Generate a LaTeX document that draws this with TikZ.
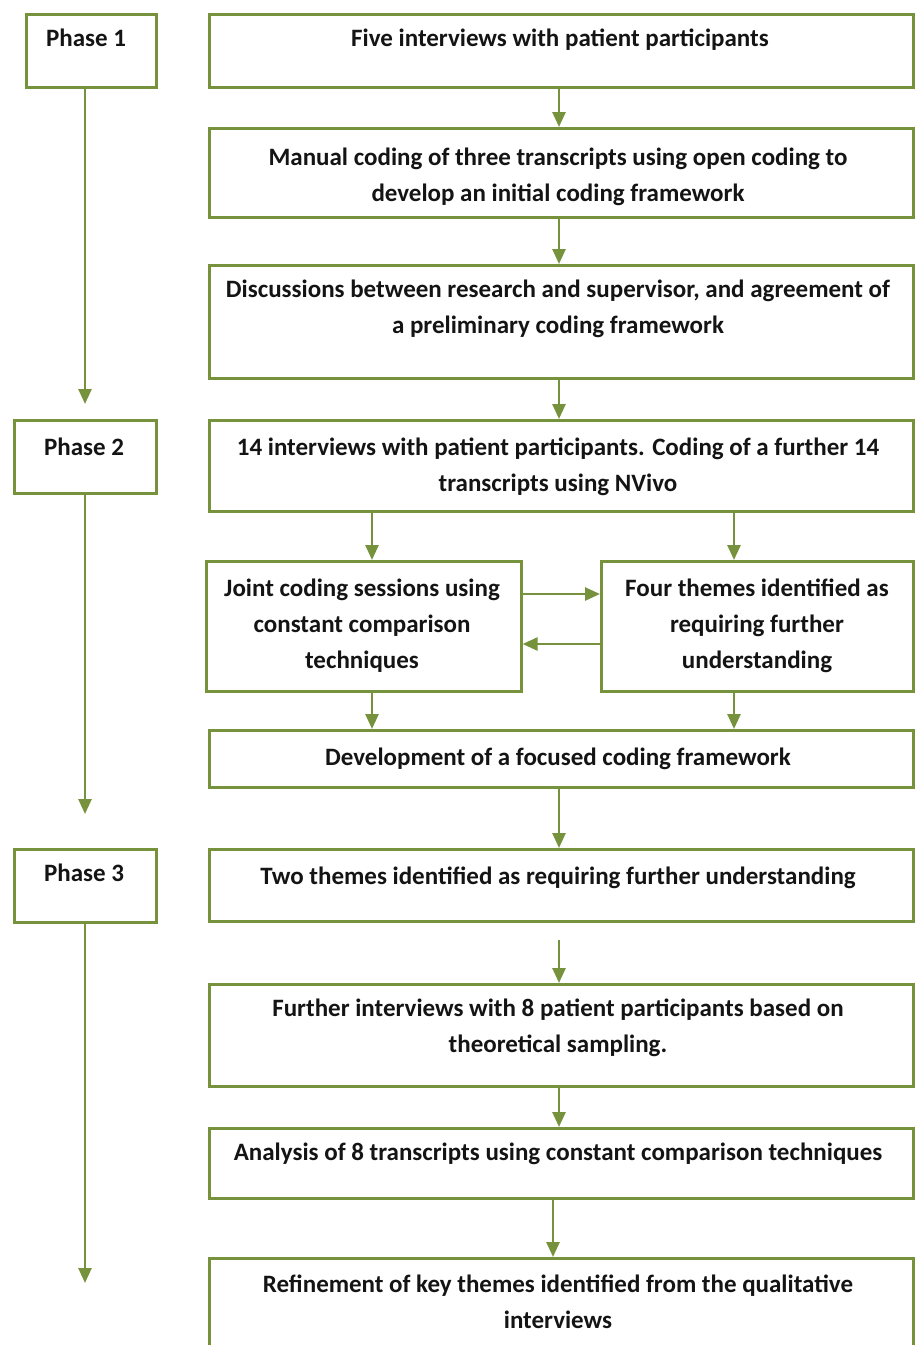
\documentclass[tikz,border=0pt]{standalone}
\usepackage{fontspec}
\setmainfont{Carlito}
\usetikzlibrary{arrows.meta}
\definecolor{og}{RGB}{118,146,60}
\begin{document}
\begin{tikzpicture}[x=1pt,y=-1pt,
 box/.style={draw=og, line width=2.6pt, inner sep=0pt, anchor=north west, fill=white},
 txt/.style={font=\fontsize{25}{36}\selectfont\bfseries, align=center, inner sep=0pt, anchor=north, text=black!92},
 arr/.style={draw=og, line width=2.6pt, -{Triangle[width=13pt,length=15pt]}}]
\useasboundingbox (0,0) rectangle (914,1345);
% phase boxes
\node[box, minimum width=130, minimum height=73] (p1) at (25,13) {};
\node[box, minimum width=142, minimum height=73] (p2) at (13,419) {};
\node[box, minimum width=142, minimum height=73] (p3) at (13,848) {};
% main boxes
\node[box, minimum width=704, minimum height=73] (b1) at (208,13) {};
\node[box, minimum width=704, minimum height=89] (b2) at (208,127) {};
\node[box, minimum width=704, minimum height=113] (b3) at (208,264) {};
\node[box, minimum width=704, minimum height=91] (b4) at (208,419) {};
\node[box, minimum width=315, minimum height=130] (lb) at (205,560) {};
\node[box, minimum width=312, minimum height=130] (rb) at (600,560) {};
\node[box, minimum width=704, minimum height=57] (dev) at (208,729) {};
\node[box, minimum width=704, minimum height=72] (two) at (208,848) {};
\node[box, minimum width=704, minimum height=102] (fur) at (208,983) {};
\node[box, minimum width=704, minimum height=70] (ana) at (208,1127) {};
\node[box, minimum width=704, minimum height=120] (ref) at (208,1257) {};
% texts
\node[txt] (tp1) at (86,29) {Phase 1};
\node[txt] (tp2) at (84,438) {Phase 2};
\node[txt] (tp3) at (84,864) {Phase 3};
\node[txt] (tb1) at (560,29) {Five interviews with patient participants};
\node[txt] (tb2) at (558,148) {Manual coding of three transcripts using open coding to\\develop an initial coding framework};
\node[txt] (tb3) at (558,280) {Discussions between research and supervisor, and agreement of\\a preliminary coding framework};
\node[txt] (tb4) at (558,438) {14 interviews with patient participants. Coding of a further 14\\transcripts using NVivo};
\node[txt] (tlb) at (362,579) {Joint coding sessions using\\constant comparison\\techniques};
\node[txt] (trb) at (757,579) {Four themes identified as\\requiring further\\understanding};
\node[txt] (tdev) at (558,748) {Development of a focused coding framework};
\node[txt] (ttwo) at (558,867) {Two themes identified as requiring further understanding};
\node[txt] (tfur) at (558,999) {Further interviews with 8 patient participants based on\\theoretical sampling.};
\node[txt] (tana) at (558,1143) {Analysis of 8 transcripts using constant comparison techniques};
\node[txt] (tref) at (558,1275) {Refinement of key themes identified from the qualitative\\interviews};
% phase arrows
\coordinate (e1) at (85,404);
\coordinate (e2) at (85,814);
\coordinate (e3) at (85,1283);
\draw[arr] (p1.south -| e1) -- (e1);
\draw[arr] (p2.south -| e2) -- (e2);
\draw[arr] (p3.south -| e3) -- (e3);
% main arrows
\draw[arr] (b1.south -| 559,0) -- (b2.north -| 559,0);
\draw[arr] (b2.south -| 559,0) -- (b3.north -| 559,0);
\draw[arr] (b3.south -| 559,0) -- (b4.north -| 559,0);
\draw[arr] (b4.south -| 372,0) -- (lb.north -| 372,0);
\draw[arr] (b4.south -| 734,0) -- (rb.north -| 734,0);
\draw[arr] (lb.east |- 0,594) -- (rb.west |- 0,594);
\draw[arr] (rb.west |- 0,644) -- (lb.east |- 0,644);
\draw[arr] (lb.south -| 372,0) -- (dev.north -| 372,0);
\draw[arr] (rb.south -| 734,0) -- (dev.north -| 734,0);
\draw[arr] (dev.south -| 559,0) -- (two.north -| 559,0);
\draw[arr, shorten <=17pt] (two.south -| 559,0) -- (fur.north -| 559,0);
\draw[arr] (fur.south -| 559,0) -- (ana.north -| 559,0);
\draw[arr] (ana.south -| 553,0) -- (ref.north -| 553,0);
\end{tikzpicture}
\end{document}
